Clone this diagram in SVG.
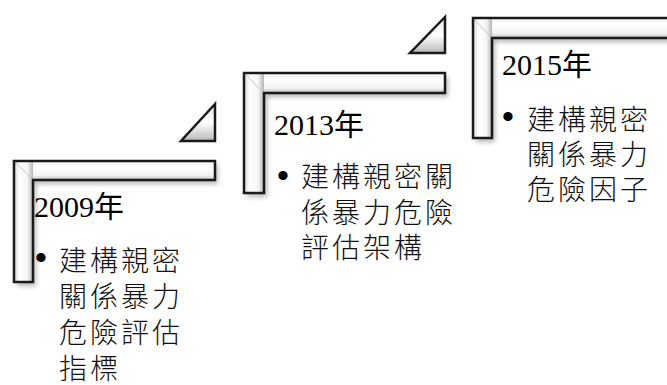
<svg xmlns="http://www.w3.org/2000/svg" width="667" height="385" viewBox="0 0 667 385">
<defs>
  <linearGradient id="gv" x1="0" y1="0" x2="1" y2="0">
    <stop offset="0" stop-color="#d9d9d9"/>
    <stop offset="0.3" stop-color="#ffffff"/>
    <stop offset="0.7" stop-color="#f6f6f6"/>
    <stop offset="1" stop-color="#b5b5b5"/>
  </linearGradient>
  <linearGradient id="gh" x1="0" y1="0" x2="0" y2="1">
    <stop offset="0" stop-color="#f0f0f0"/>
    <stop offset="0.3" stop-color="#ffffff"/>
    <stop offset="0.75" stop-color="#f4f4f4"/>
    <stop offset="1" stop-color="#bdbdbd"/>
  </linearGradient>
  <linearGradient id="gt" x1="0" y1="0" x2="0" y2="1">
    <stop offset="0" stop-color="#e8e8e8"/>
    <stop offset="0.5" stop-color="#ffffff"/>
    <stop offset="1" stop-color="#b8b8b8"/>
  </linearGradient>
  <filter id="sh" x="-20%" y="-20%" width="140%" height="140%">
    <feGaussianBlur stdDeviation="2.5"/>
  </filter>
</defs>
<style>
  .ol { fill: none; stroke: #1a1a1a; stroke-width: 2.5; stroke-linejoin: miter; }
  .shadow { fill: #000; opacity: 0.28; filter: url(#sh); }
  .tri { fill: url(#gt); stroke: #1a1a1a; stroke-width: 2.5; stroke-linejoin: miter; }
  .bev { stroke: #c4c4c4; stroke-width: 1; }
  .yr { font-family: "Liberation Serif", "Noto Sans CJK TC", serif; font-size: 30px; fill: #000; }
  .bt { font-family: "Liberation Sans", "Noto Sans CJK TC", sans-serif; font-size: 28px; letter-spacing: 3px; fill: #111; font-weight: 300; }
  .bl { font-family: "Liberation Sans", sans-serif; font-size: 34px; fill: #000; text-anchor: middle; }
</style>

<g id="step-2009">
  <polygon class="shadow" points="17,165 218,165 218,184 36,184 36,286 17,286"/>
  <rect x="14" y="161" width="201" height="19" fill="url(#gh)"/>
  <rect x="14" y="161" width="19" height="121" fill="url(#gv)"/>
  <line class="bev" x1="16" y1="163" x2="31" y2="178"/>
  <polygon class="ol" points="14,161 215,161 215,180 33,180 33,282 14,282"/>
  <polygon class="tri" points="215,104 181,141 215,141"/>
  <text class="yr" x="34" y="217">2009年</text>
  <text class="bl" x="41" y="269">•</text>
  <text class="bt"><tspan x="59" y="271">建構親密</tspan><tspan x="59" y="307">關係暴力</tspan><tspan x="59" y="342.5">危險評估</tspan><tspan x="59" y="378.5">指標</tspan></text>
</g>

<g id="step-2013">
  <polygon class="shadow" points="247,77 448,77 448,97 267,97 267,197 247,197"/>
  <rect x="244" y="73" width="201" height="20" fill="url(#gh)"/>
  <rect x="244" y="73" width="20" height="120" fill="url(#gv)"/>
  <line class="bev" x1="246" y1="75" x2="262" y2="91"/>
  <polygon class="ol" points="244,73 445,73 445,93 264,93 264,193 244,193"/>
  <polygon class="tri" points="445,17 410,53 445,53"/>
  <text class="yr" x="274" y="135">2013年</text>
  <text class="bl" x="283" y="187">•</text>
  <text class="bt"><tspan x="301" y="187">建構親密關</tspan><tspan x="301" y="223">係暴力危險</tspan><tspan x="301" y="258">評估架構</tspan></text>
</g>

<g id="step-2015">
  <polygon class="shadow" points="476,22 690,22 690,42 495,42 495,142 476,142"/>
  <rect x="473" y="18" width="210" height="20" fill="url(#gh)"/>
  <rect x="473" y="18" width="19" height="120" fill="url(#gv)"/>
  <line class="bev" x1="475" y1="20" x2="490" y2="36"/>
  <polygon class="ol" points="473,18 690,18 690,38 492,38 492,138 473,138"/>
  <text class="yr" x="502" y="75">2015年</text>
  <text class="bl" x="508" y="128">•</text>
  <text class="bt"><tspan x="527" y="130">建構親密</tspan><tspan x="527" y="164.5">關係暴力</tspan><tspan x="527" y="199.5">危險因子</tspan></text>
</g>

<g id="connectors"/>
</svg>
